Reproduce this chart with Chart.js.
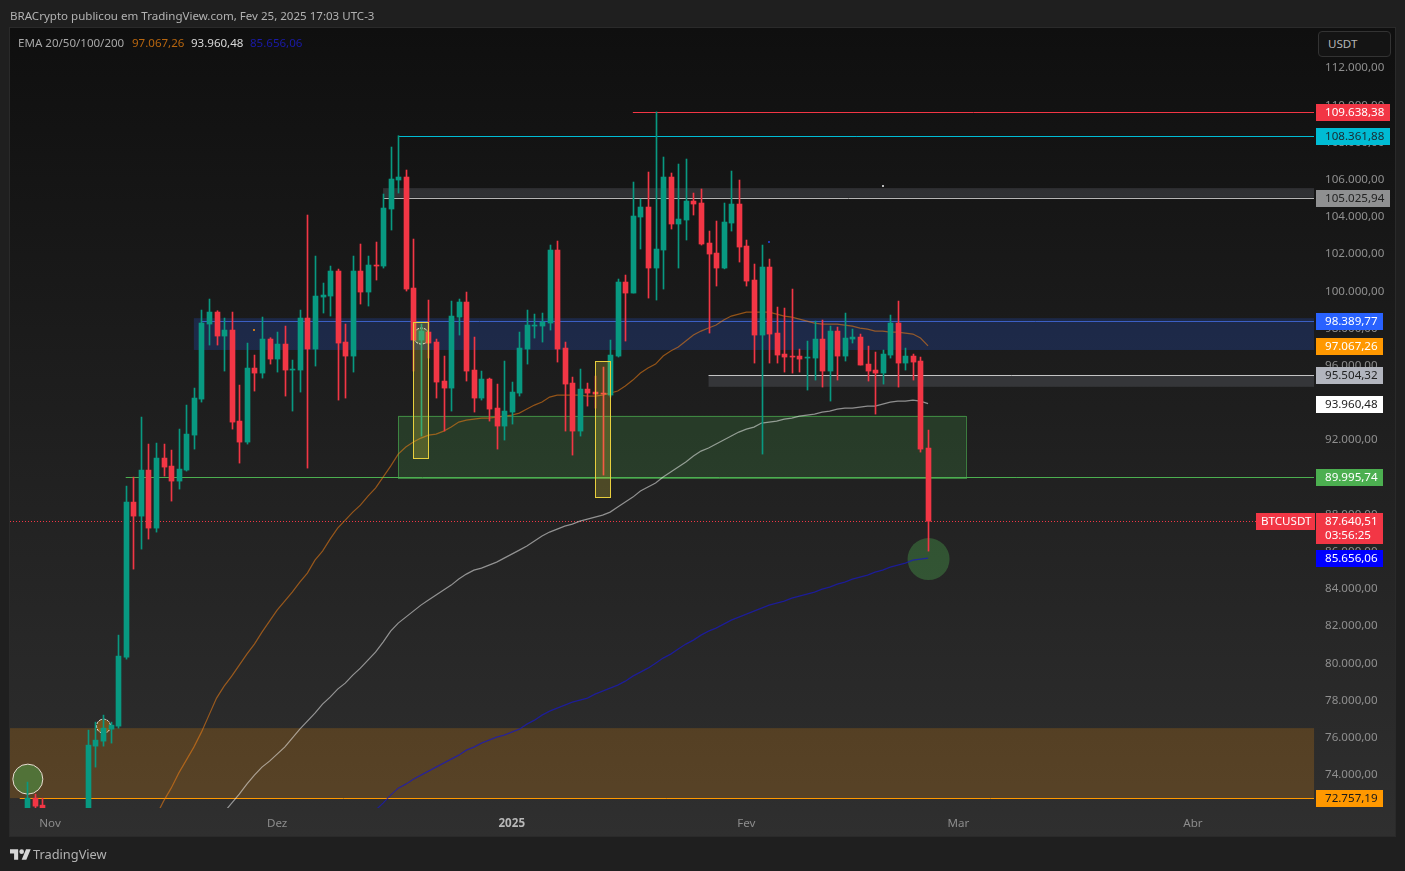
<!DOCTYPE html>
<html>
<head>
<meta charset="utf-8">
<title>BTCUSDT</title>
<script src="https://cdn.jsdelivr.net/npm/chart.js@4"></script>
<style>
  html, body { margin: 0; padding: 0; background: #1f1f1f; overflow: hidden; }
  body { width: 1405px; height: 871px; position: relative; font-family: "Noto Sans", sans-serif; }
  #pane { position: absolute; left: 9px; top: 27px; width: 1385px; height: 808px; border: 1px solid #2a2a2a;
          background: linear-gradient(#0f0f0f, #2f2f2f); }
  canvas { position: absolute; left: 0; top: 0; }
  .txt { position: absolute; white-space: nowrap; font-size: 11.55px; line-height: 14px; }
  #usdt { position: absolute; left: 1318px; top: 31px; width: 71px; height: 24px; border: 1px solid #333; border-radius: 4px;
          background: #141414; color: #b4b4b4; font-size: 11.6px; line-height: 24px; text-indent: 9px; }
</style>
</head>
<body>
<div id="pane"></div>
<canvas id="btcChart" width="1405" height="871"></canvas>
<div class="txt" style="left:10px;top:9px;color:#b2b2b2">BRACrypto publicou em TradingView.com, Fev 25, 2025 17:03 UTC-3</div>
<div class="txt" style="left:18px;top:36px;color:#a8a8a8">EMA 20/50/100/200</div>
<div class="txt" style="left:132px;top:36px;color:#b8660f">97.067,26</div>
<div class="txt" style="left:191px;top:36px;color:#d8d8d8">93.960,48</div>
<div class="txt" style="left:250px;top:36px;color:#1a1aa8">85.656,06</div>
<div id="usdt">USDT</div>
<svg style="position:absolute;left:10px;top:847px" width="21" height="14" viewBox="0 0 36 24"><path fill="#d6d6d6" d="M14 22H7V11H0V4h14v18zM28 22h-8l7.5-18h8L28 22z"/><circle fill="#d6d6d6" cx="20" cy="8" r="4"/></svg>
<div class="txt" style="left:33px;top:846px;font-size:12.8px;line-height:17px;color:#b2b2b2">TradingView</div>
<script>
// Daily candles, day 0 = Oct 29 2024
const opens = [71354,72756,72379,70254,69534,69394,68354,67854,69424,75551,75820,76465,76626,80336,88668,87916,90389,87271,91034,90604,
  89797,90389,92270,94206,98238,98883,97593,97915,93023,91894,95872,95603,97431,96356,97162,95765,95765,98560,96894,99689,
  99743,101087,97270,96517,101087,99958,101410,101356,104420,105979,106140,100173,97378,97808,97270,95174,94797,98614,99421,95765,
  94260,95281,93722,92754,93507,94528,96894,98130,98130,98292,102216,96947,95066,92486,94743,94582,94528,94420,96517,100496,
  99904,103990,104528,101248,102216,106140,103614,103829,104850,104743,102592,102054,101248,103667,104689,102431,100603,97646,101302,97754,
  96625,96517,96517,96410,96410,97431,95711,97861,96517,97431,97539,96087,95765,95603,96571,98292,96141,96517,96249,91572];
const closes = [72756,72325,70254,69534,69394,68354,67854,69404,75605,75874,76519,76680,80390,88668,87916,90389,87271,91034,90550,89797,
  90443,92324,94260,98292,98883,97593,97915,92969,91894,95872,95603,97431,96356,97162,95765,95819,98560,96894,99743,99797,
  101087,97216,96517,101087,99958,101410,101356,104474,106033,106140,100119,97378,97861,97216,95120,94797,98668,99421,95711,94260,
  95281,93668,92754,93561,94582,96947,98184,98184,98345,102216,96894,95012,92486,94743,94528,94474,94474,96571,100496,99904,
  104044,104528,101248,102270,106140,103614,103883,104850,104689,102539,102001,101248,103721,104689,102377,100549,97646,101302,97700,96571,
  96464,96464,96356,96464,97431,95711,97861,96517,97485,97539,96034,95711,95603,96625,98292,96141,96517,96195,91518,87640];
const highs = [73616,72971,72754,71500,70000,69500,69500,70500,76411,76841,77218,76841,81518,89528,90012,93238,91787,91840,91787,91464,
  92593,93883,94797,98990,99582,98954,98560,98883,94958,97216,96571,98614,97504,97808,98130,96302,98990,104098,101893,100442,
  101356,101194,98238,101893,102539,101893,102646,105227,107753,108361,106517,102807,98238,99528,97431,96517,99474,99582,99958,97539,
  95711,95334,95012,96249,95120,97808,98990,98775,98829,102485,102700,97270,95388,95819,95066,95442,95926,97378,100657,100872,
  105872,104958,106409,109638,107216,106356,106839,107108,105280,105495,103237,103775,104743,106463,105979,102754,101464,102485,101732,99152,
  99098,100119,96894,97324,98399,98453,98130,98076,98829,97969,97700,97055,96733,96840,98721,99474,96947,96625,96464,92539];
const lows = [71000,71954,69700,68800,69000,67500,66800,67400,69000,74422,75551,75713,76519,80228,85067,86142,86680,87056,90066,88722,
  89368,90335,91518,94044,97109,97109,95711,92593,90765,91787,94636,95334,96087,95657,94367,93561,94582,90496,95980,98829,
  98668,94152,94260,95657,99313,99206,100603,101248,103291,105280,100012,95711,92217,96410,94260,92486,93561,97646,95174,93507,
  94152,93023,91518,92002,92862,94367,96087,97485,97270,97915,96195,92486,91195,92217,93829,93722,90122,94313,96464,97324,
  99904,102270,99635,99528,100119,103345,101248,102754,104098,102485,97754,100281,101204,103237,101571,100281,96141,91249,96141,96141,
  95657,95603,95657,94690,95227,94851,94098,95227,96249,97216,96034,95174,93399,95012,96410,94851,95765,95227,91356,86034];

// EMAs, one value per day from the start day
const emaOrangeStart = 17;
const emaOrange = [71788,72594,73293,74100,74798,75497,76304,77218,78132,78777,79314,79906,80497,81035,81680,82271,82862,83346,83830,84368,
  84852,85550,86034,86679,87271,87701,88131,88507,88991,89421,90012,90604,91249,91625,91894,92109,92270,92324,92485,92700,
  92969,93077,93131,93184,93184,93238,93292,93346,93453,93668,93883,94044,94313,94421,94421,94421,94421,94367,94367,94421,
  94528,94636,94905,95227,95604,95872,96087,96517,96786,97001,97324,97646,97861,98023,98184,98453,98668,98775,98883,98883,
  98883,98883,98775,98668,98614,98507,98399,98292,98238,98238,98238,98184,98130,98023,97969,97861,97861,97808,97808,97754,97700,97485,97067];
const emaWhiteStart = 26;
const emaWhite = [72003,72487,72971,73508,73992,74422,74745,75121,75497,75981,76465,76895,77325,77809,78185,78615,78938,79368,79744,80174,
  80604,81142,81733,82164,82486,82809,83131,83400,83669,83938,84206,84529,84798,85013,85120,85282,85443,85658,85873,86088,
  86303,86572,86841,87056,87217,87378,87486,87647,87755,87862,87970,88131,88400,88668,88937,89260,89475,89690,90012,90281,
  90550,90819,91141,91410,91572,91787,92002,92217,92432,92593,92700,92916,92969,93023,93131,93184,93292,93346,93399,93507,
  93561,93668,93722,93722,93776,93829,93829,93937,94044,94098,94098,94152,94098,93960];
const emaBlueStart = 46;
const emaBlue = [72110,72487,72917,73293,73508,73777,73992,74207,74422,74637,74852,75067,75336,75497,75712,75874,76035,76142,76304,76465,
  76734,76949,77218,77433,77594,77755,77916,78024,78132,78347,78508,78669,78830,79045,79314,79529,79744,80013,80282,80497,
  80766,81035,81250,81518,81733,81895,82110,82325,82486,82647,82809,82970,83131,83239,83346,83508,83615,83723,83830,83991,
  84099,84260,84368,84529,84636,84744,84905,85013,85174,85282,85389,85550,85604,85656];

// Axis labels
const yTicks = [74000,76000,78000,80000,82000,84000,86000,88000,90000,92000,94000,96000,98000,100000,102000,104000,106000,108000,110000,112000];
const monthDays = [3,33,64,95,123,154];
const monthLabels = ['Nov','Dez','2025','Fev','Mar','Abr'];

// Levels and zones drawn on the pane, x in days and y in price
const priceLevels = [109638.38,108361.88,105025.94,98389.77,97067.26,95504.32,93960.48,89995.74,87640.51,85656.06,72757.19];
const levelStarts = {109638.38:80,108361.88:49,105025.94:47,98389.77:23,95504.32:90,89995.74:13,72757.19:-1};
const zoneRanges = [[-2.3,170,76519,72757],[49,124,93319,89996],[22,170,98554,96844],[47,170,105544,105026],[90,170,95504,94864]];
const boxRanges = [[51,53,98334,91054],[75,77,96249,88954]];
const circleSpots = [[0,73777],[10,76626],[52,97593],[119,85604]];
const tinyDots = [[113,105657],[98,102647],[30,97915]];

function fmt(v) {
  return v.toLocaleString('pt-BR', {minimumFractionDigits: 2, maximumFractionDigits: 2});
}
function dayPoints(start, values) {
  return values.map((v, i) => ({x: start + i, y: v}));
}
const days = opens.map((_, i) => i);
const isUp = days.map(i => closes[i] >= opens[i]);
const candleColors = isUp.map(u => u ? '#089981' : '#f23645');

// Keeps candles on whole pixels
const snapCandles = {
  id: 'snapCandles',
  afterDatasetsUpdate(chart) {
    chart.getSortedVisibleDatasetMetas().forEach(meta => {
      if (meta.type === 'bar') meta.data.forEach(el => { el.x = Math.round(el.x) + 0.5; });
    });
  }
};

function hLine(ctx, x, y, right, color, width) {
  ctx.strokeStyle = color;
  ctx.lineWidth = width || 1;
  ctx.beginPath();
  ctx.moveTo(x, Math.round(y) + 0.5);
  ctx.lineTo(right, Math.round(y) + 0.5);
  ctx.stroke();
}

const paneDrawings = {
  id: 'paneDrawings',
  beforeDatasetsDraw(chart) {
    const {ctx, chartArea: area, scales: {x, y}} = chart;
    ctx.save();
    ctx.beginPath();
    ctx.rect(area.left, area.top, area.right - area.left + 1, area.bottom - area.top);
    ctx.clip();
    const fills = ['rgba(255,152,10,0.2)', 'rgba(76,175,80,0.2)', 'rgba(41,98,255,0.2)', 'rgba(120,123,134,0.27)', 'rgba(120,123,134,0.27)'];
    zoneRanges.forEach((z, i) => {
      const x0 = x.getPixelForValue(z[0]), x1 = x.getPixelForValue(z[1]);
      const y0 = y.getPixelForValue(z[2]), y1 = y.getPixelForValue(z[3]);
      ctx.fillStyle = fills[i];
      ctx.fillRect(x0, y0, x1 - x0, y1 - y0);
      if (i === 1) {
        ctx.strokeStyle = 'rgba(76,175,80,0.65)';
        ctx.lineWidth = 1;
        ctx.strokeRect(Math.round(x0) + 0.5, Math.round(y0) + 0.5, Math.round(x1 - x0), Math.round(y1 - y0));
      }
    });
    const lineColors = {109638.38:'#f23645',108361.88:'#00bcd4',105025.94:'#b5b5b5',98389.77:'#3b5fc4',95504.32:'#c4c4c4',89995.74:'#4caf50',72757.19:'#ff9800'};
    Object.keys(levelStarts).forEach(k => {
      hLine(ctx, x.getPixelForValue(levelStarts[k]), y.getPixelForValue(+k), area.right, lineColors[k]);
    });
    // last price
    ctx.setLineDash([1, 2]);
    hLine(ctx, area.left, y.getPixelForValue(87640.51), area.right, '#f23645');
    ctx.setLineDash([]);
    // circles sit under the candles
    const radii = [15, 7, 8, 21];
    const rings = ['#e9dcd2', '#e9e9e9', '#e9e9e9', null];
    const discs = ['rgba(76,175,80,0.45)', 'rgba(255,152,0,0.35)', 'rgba(76,175,80,0.3)', 'rgba(76,175,80,0.35)'];
    circleSpots.forEach((c, i) => {
      ctx.beginPath();
      ctx.arc(x.getPixelForValue(c[0]) + 0.5, y.getPixelForValue(c[1]), radii[i], 0, Math.PI * 2);
      ctx.fillStyle = discs[i];
      ctx.fill();
      if (rings[i]) {
        ctx.strokeStyle = rings[i];
        ctx.lineWidth = 1;
        if (i > 0) ctx.setLineDash([3, 1]);
        ctx.stroke();
        ctx.setLineDash([]);
      }
    });
    ctx.restore();
  },
  afterDatasetsDraw(chart) {
    const {ctx, scales: {x, y}} = chart;
    ctx.save();
    boxRanges.forEach(b => {
      const x0 = Math.round(x.getPixelForValue(b[0])) + 0.5, x1 = Math.round(x.getPixelForValue(b[1])) + 0.5;
      const y0 = Math.round(y.getPixelForValue(b[2])) + 0.5, y1 = Math.round(y.getPixelForValue(b[3])) + 0.5;
      ctx.fillStyle = 'rgba(255,235,59,0.2)';
      ctx.fillRect(x0, y0, x1 - x0, y1 - y0);
      ctx.strokeStyle = '#e8cf3d';
      ctx.lineWidth = 1;
      ctx.strokeRect(x0, y0, x1 - x0, y1 - y0);
    });
    const dotColors = ['#b8b8b8', '#2238b8', '#c8761a'];
    tinyDots.forEach((d, i) => {
      ctx.fillStyle = dotColors[i];
      ctx.fillRect(Math.round(x.getPixelForValue(d[0])) - 1, Math.round(y.getPixelForValue(d[1])) - 1, 2, 2);
    });
    ctx.restore();
  },
  afterDraw(chart) {
    const {ctx, scales: {y}} = chart;
    const bg = ['#f23645','#00bcd4','#8f9091','#2962ff','#ff9800','#b2b5be','#ffffff','#4caf50','#f23645','#0000ff','#ff9800'];
    const fg = ['#ffffff','#1a2a30','#222222','#ffffff','#ffffff','#222222','#222222','#ffffff','#ffffff','#ffffff','#1a1a1a'];
    ctx.save();
    ctx.font = '11.6px "Noto Sans"';
    ctx.textBaseline = 'middle';
    priceLevels.forEach((p, i) => {
      const cy = Math.round(y.getPixelForValue(p));
      const w = i < 3 ? 74 : 67;
      const h = i === 8 ? 31 : 17;
      const top = cy - 8;
      ctx.fillStyle = bg[i];
      ctx.fillRect(1316, top, w, h);
      ctx.fillStyle = fg[i];
      ctx.fillText(fmt(p), 1325, cy + 1);
      if (i === 8) {
        ctx.fillText('03:56:25', 1325, cy + 15);
        ctx.fillStyle = bg[i];
        ctx.fillRect(1256, top, 59, 17);
        ctx.fillStyle = '#ffffff';
        ctx.fillText('BTCUSDT', 1261, cy + 1);
      }
    });
    ctx.restore();
  }
};

const wickData = days.map(i => ({x: i, y: [lows[i], highs[i]]}));
const bodyData = days.map(i => ({x: i, y: [opens[i], closes[i]]}));

new Chart(document.getElementById('btcChart').getContext('2d'), {
  type: 'bar',
  data: {
    datasets: [
      {data: bodyData, backgroundColor: candleColors, barThickness: 5, grouped: false, order: 1, borderWidth: 0},
      {data: wickData, backgroundColor: candleColors, barThickness: 1, grouped: false, order: 2, borderWidth: 0},
      {type: 'line', data: dayPoints(emaOrangeStart, emaOrange), borderColor: 'rgba(245,130,20,0.55)', borderWidth: 1.2, pointRadius: 0, order: 3},
      {type: 'line', data: dayPoints(emaWhiteStart, emaWhite), borderColor: 'rgba(255,255,255,0.5)', borderWidth: 1.2, pointRadius: 0, order: 3},
      {type: 'line', data: dayPoints(emaBlueStart, emaBlue), borderColor: 'rgba(25,25,190,0.75)', borderWidth: 1.2, pointRadius: 0, order: 3}
    ]
  },
  plugins: [snapCandles, paneDrawings],
  options: {
    responsive: false,
    animation: false,
    layout: {padding: {left: 10, top: 28, right: 10, bottom: 36}},
    plugins: {legend: {display: false}, tooltip: {enabled: false}},
    scales: {
      x: {
        type: 'linear',
        min: -2.29,
        max: 169.99,
        offset: false,
        grid: {display: false, drawTicks: false},
        border: {display: false},
        afterBuildTicks(axis) { axis.ticks = monthDays.map(v => ({value: v})); },
        afterFit(axis) { axis.height = 27; },
        ticks: {
          autoSkip: false,
          maxRotation: 0,
          padding: 9,
          callback: v => monthLabels[monthDays.indexOf(v)],
          color: ctx => monthLabels[ctx.index] === '2025' ? '#b8b8b8' : '#8c8c8c',
          font: ctx => ({family: 'Noto Sans', size: 11.6, weight: monthLabels[ctx.index] === '2025' ? 'bold' : 'normal'})
        }
      },
      y: {
        position: 'right',
        min: 72226,
        max: 114151,
        grid: {display: false, drawTicks: false},
        border: {display: false},
        afterBuildTicks(axis) { axis.ticks = yTicks.map(v => ({value: v})); },
        afterFit(axis) { axis.width = 81; },
        ticks: {
          autoSkip: false,
          crossAlign: 'near',
          padding: 11,
          callback: v => fmt(v),
          color: '#8f8f8f',
          font: {family: 'Noto Sans', size: 11.6}
        }
      }
    }
  }
});
</script>
</body>
</html>
